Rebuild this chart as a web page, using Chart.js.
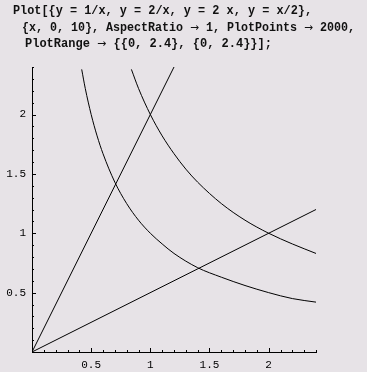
<!DOCTYPE html>
<html>
<head>
<meta charset="utf-8">
<script src="https://cdn.jsdelivr.net/npm/chart.js@4/dist/chart.umd.min.js"></script>
<style>
  html, body { margin: 0; padding: 0; background: #e7e3e7; }
  #wrap { position: relative; width: 367px; height: 372px; }
  #c { position: absolute; left: 0; top: 0; }
  #code { position: absolute; left: 0; top: 0; }
  #code text { font-family: "Liberation Mono", "Courier New", monospace; font-weight: bold; font-size: 12px; fill: #111; }
  #code tspan.arr { font-family: "DejaVu Sans", sans-serif; font-weight: normal; font-size: 11px; }
</style>
</head>
<body>
<div id="wrap">
  <canvas id="c" width="367" height="372"></canvas>
  <svg id="code" width="367" height="56" xmlns="http://www.w3.org/2000/svg">
    <text x="13" y="14" textLength="299" lengthAdjust="spacingAndGlyphs">Plot[{y = 1/x, y = 2/x, y = 2 x, y = x/2},</text>
    <text x="22" y="31" textLength="333" lengthAdjust="spacingAndGlyphs">{x, 0, 10}, AspectRatio <tspan class="arr">→</tspan> 1, PlotPoints <tspan class="arr">→</tspan> 2000,</text>
    <text x="25" y="47" textLength="247" lengthAdjust="spacingAndGlyphs">PlotRange <tspan class="arr">→</tspan> {{0, 2.4}, {0, 2.4}}];</text>
  </svg>
</div>
<script>
// ---- data ----
const xRecip1 = [0.42, 0.45, 0.5, 0.55, 0.6, 0.7, 0.8, 0.9, 1.0, 1.1, 1.2, 1.4, 1.6, 1.8, 2.0, 2.2, 2.4];
const yRecip1 = [2.38, 2.22, 2.0, 1.82, 1.67, 1.43, 1.25, 1.11, 1.0, 0.91, 0.83, 0.71, 0.63, 0.56, 0.5, 0.45, 0.42];
const xRecip2 = [0.84, 0.9, 1.0, 1.1, 1.2, 1.3, 1.4, 1.6, 1.8, 2.0, 2.2, 2.4];
const yRecip2 = [2.38, 2.22, 2.0, 1.82, 1.67, 1.54, 1.43, 1.25, 1.11, 1.0, 0.91, 0.83];
const xDouble = [0, 1.2];
const yDouble = [0, 2.4];
const xHalf = [0, 2.4];
const yHalf = [0, 1.2];
const axisRange = [0, 2.4];
const tickStep = 0.1;
const labelledTicks = ['0.5', '1', '1.5', '2'];

const toPts = (xs, ys) => xs.map((x, i) => ({ x: x, y: ys[i] }));
const isLabelled = v => labelledTicks.some(t => Math.abs(parseFloat(t) - v) < 1e-6);

const lineStyle = {
  showLine: true, borderColor: '#000', borderWidth: 1, pointRadius: 0,
  fill: false, cubicInterpolationMode: 'monotone'
};

const insideTicks = {
  id: 'insideTicks',
  afterDatasetsDraw(chart) {
    const { ctx, scales: { x, y } } = chart;
    ctx.save();
    ctx.strokeStyle = '#000';
    ctx.lineWidth = 1;
    ctx.beginPath();
    x.ticks.forEach(t => {
      if (Math.abs(t.value) < 1e-6) return;
      const px = Math.round(x.getPixelForValue(t.value)) + 0.5;
      const len = isLabelled(t.value) ? 4 : 2;
      ctx.moveTo(px, y.bottom);
      ctx.lineTo(px, y.bottom - len);
    });
    y.ticks.forEach(t => {
      if (Math.abs(t.value) < 1e-6) return;
      const py = Math.round(y.getPixelForValue(t.value)) + 0.5;
      const len = isLabelled(t.value) ? 4 : 2;
      ctx.moveTo(x.left, py);
      ctx.lineTo(x.left + len, py);
    });
    ctx.stroke();
    ctx.restore();
  }
};

const tickFont = { family: '"Liberation Mono", "Courier New", monospace', size: 11 };

new Chart(document.getElementById('c'), {
  type: 'scatter',
  data: {
    datasets: [
      Object.assign({ label: 'y = 1/x', data: toPts(xRecip1, yRecip1) }, lineStyle),
      Object.assign({ label: 'y = 2/x', data: toPts(xRecip2, yRecip2) }, lineStyle),
      Object.assign({ label: 'y = 2x', data: toPts(xDouble, yDouble) }, lineStyle),
      Object.assign({ label: 'y = x/2', data: toPts(xHalf, yHalf) }, lineStyle)
    ]
  },
  options: {
    responsive: false,
    animation: false,
    devicePixelRatio: 1,
    layout: { padding: { top: 67, right: 51, left: 0, bottom: 0 } },
    plugins: { legend: { display: false }, tooltip: { enabled: false } },
    scales: {
      x: {
        type: 'linear', min: axisRange[0], max: axisRange[1],
        grid: { display: false, drawTicks: false, tickLength: 0 },
        border: { display: true, color: '#000', width: 1 },
        ticks: {
          stepSize: tickStep, autoSkip: false, maxRotation: 0, minRotation: 0,
          padding: 6, color: '#000', font: tickFont,
          callback: v => { const s = labelledTicks.find(t => Math.abs(parseFloat(t) - v) < 1e-6); return s || ''; }
        },
        afterFit: s => { s.height = 20; }
      },
      y: {
        type: 'linear', min: axisRange[0], max: axisRange[1],
        grid: { display: false, drawTicks: false, tickLength: 0 },
        border: { display: true, color: '#000', width: 1 },
        ticks: {
          stepSize: tickStep, autoSkip: false,
          padding: 6, color: '#000', font: tickFont,
          callback: v => { const s = labelledTicks.find(t => Math.abs(parseFloat(t) - v) < 1e-6); return s || ''; }
        },
        afterFit: s => { s.width = 32; }
      }
    }
  },
  plugins: [insideTicks]
});
</script>
</body>
</html>
